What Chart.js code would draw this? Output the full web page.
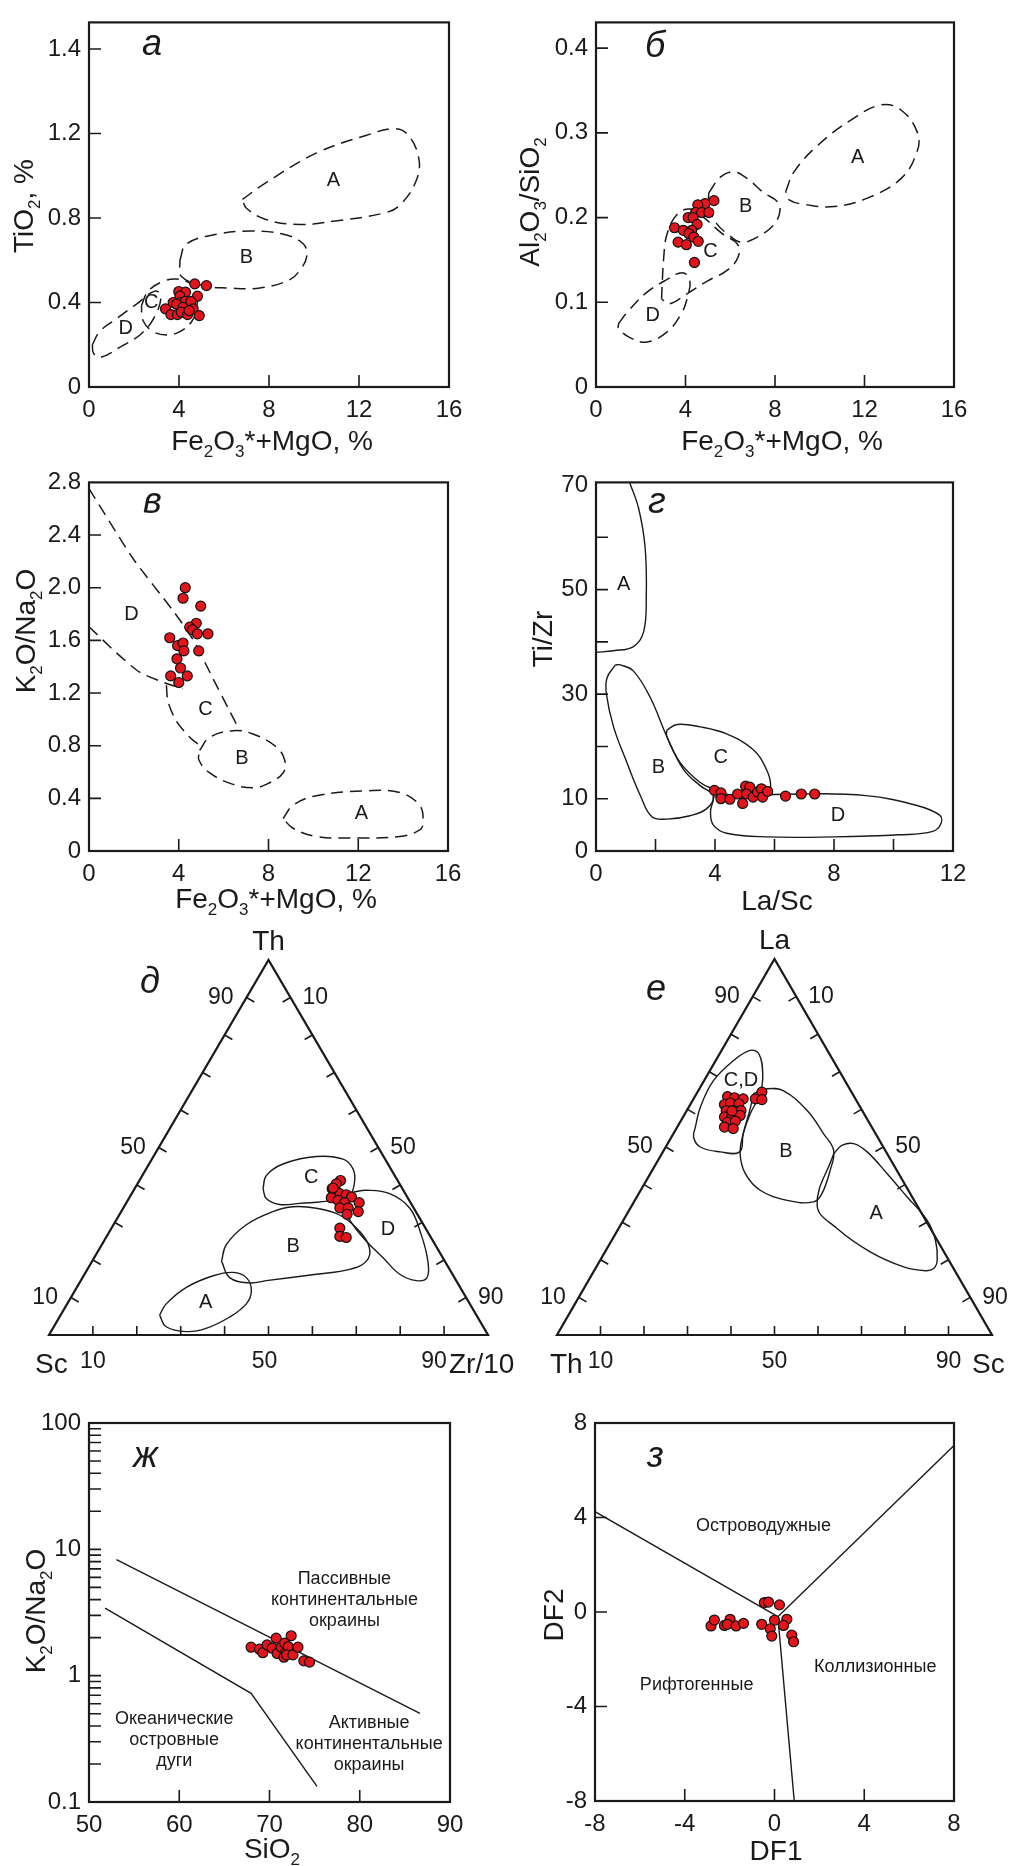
<!DOCTYPE html>
<html>
<head>
<meta charset="utf-8">
<script src="https://cdn.jsdelivr.net/npm/chart.js@4.4.1/dist/chart.umd.min.js"></script>
<style>
html, body { margin: 0; padding: 0; background: #fff; }
#page { position: relative; width: 1011px; height: 1866px; overflow: hidden; background: #fff; }
canvas { position: absolute; }
</style>
</head>
<body>
<div id="page">
<canvas id="cA" width="490" height="460" style="left:0px;top:0px"></canvas>
<canvas id="cB" width="506" height="460" style="left:505px;top:0px"></canvas>
<canvas id="cV" width="490" height="460" style="left:0px;top:460px"></canvas>
<canvas id="cG" width="506" height="460" style="left:505px;top:460px"></canvas>
<canvas id="cD" width="530" height="500" style="left:0px;top:880px"></canvas>
<canvas id="cE" width="506" height="500" style="left:505px;top:880px"></canvas>
<canvas id="cZh" width="490" height="486" style="left:0px;top:1380px"></canvas>
<canvas id="cZ" width="506" height="486" style="left:505px;top:1380px"></canvas>
</div>
<script>
var FONT = '"Liberation Sans", Arial, sans-serif';
var INK = '#1a1a1a';
var RED = '#e3141b';

// ---------- а : TiO2 vs Fe2O3*+MgO ----------
var aX = [4.70, 5.22, 3.99, 4.29, 4.04, 4.82, 3.74, 4.04, 4.27, 4.53, 3.40, 3.89, 4.18, 4.63, 3.64, 3.93, 4.10, 4.38, 4.90, 4.45];
var aY = [0.488, 0.480, 0.452, 0.449, 0.430, 0.430, 0.400, 0.400, 0.405, 0.405, 0.370, 0.392, 0.377, 0.370, 0.343, 0.343, 0.354, 0.343, 0.338, 0.362];
var aXTicks = [0, 4, 8, 12, 16];
var aXLabels = ['0', '4', '8', '12', '16'];
var aYTicks = [0, 0.4, 0.8, 1.2, 1.6];
var aYLabels = ['0', '0.4', '0.8', '1.2', '1.4'];
var aRegA = [[6.82,0.888],[7.89,0.969],[10.12,1.108],[12.34,1.192],[13.53,1.223],[14.12,1.20],[14.64,1.092],[14.57,0.985],[13.83,0.862],[13.09,0.823],[10.86,0.785],[9.38,0.769],[7.89,0.792],[7.0,0.846]];
var aRegB = [[4.04,0.60],[4.33,0.677],[5.67,0.723],[7.15,0.738],[8.64,0.723],[9.53,0.677],[9.67,0.615],[9.38,0.554],[8.93,0.508],[7.6,0.469],[6.11,0.469],[5.22,0.477],[4.11,0.523]];
var aRegC = [[2.33,0.385],[2.63,0.454],[3.29,0.50],[3.89,0.511],[4.48,0.492],[4.78,0.446],[4.78,0.369],[4.55,0.308],[4.04,0.262],[3.44,0.246],[2.85,0.262],[2.40,0.315]];
var aRegD = [[0.15,0.20],[0.47,0.262],[1.22,0.323],[2.11,0.392],[2.92,0.454],[3.2,0.43],[2.9,0.33],[2.3,0.25],[1.4,0.19],[0.5,0.14],[0.2,0.16]];
var aRegNames = ['A', 'B', 'C', 'D'];
var aRegLabX = [10.86, 7.0, 2.77, 1.63];
var aRegLabY = [0.977, 0.615, 0.40, 0.277];

// ---------- б : Al2O3/SiO2 vs Fe2O3*+MgO ----------
var bX = [5.27, 4.87, 4.55, 4.45, 4.72, 5.04, 4.12, 4.34, 4.52, 3.51, 3.90, 4.28, 4.15, 4.37, 3.67, 4.04, 4.57, 4.40];
var bY = [0.220, 0.2165, 0.215, 0.206, 0.206, 0.206, 0.200, 0.200, 0.192, 0.188, 0.185, 0.185, 0.181, 0.177, 0.171, 0.168, 0.172, 0.147];
var bYTicks = [0, 0.1, 0.2, 0.3, 0.4];
var bYLabels = ['0', '0.1', '0.2', '0.3', '0.4'];
var bRegA = [[8.48,0.231],[8.85,0.254],[9.9,0.285],[11.39,0.315],[12.73,0.333],[13.63,0.327],[14.37,0.30],[14.34,0.277],[13.63,0.246],[12.13,0.223],[10.64,0.213],[9.45,0.215],[8.63,0.221]];
var bRegB = [[5.04,0.229],[5.57,0.248],[6.16,0.254],[6.76,0.246],[7.51,0.229],[8.10,0.219],[8.22,0.208],[7.96,0.192],[7.21,0.177],[6.46,0.171],[5.87,0.181],[5.42,0.192],[5.04,0.212]];
var bRegC = [[2.93,0.104],[3.03,0.154],[3.18,0.181],[3.63,0.204],[4.22,0.21],[4.82,0.20],[5.64,0.181],[6.31,0.169],[6.36,0.154],[5.87,0.138],[4.97,0.125],[4.07,0.11],[3.25,0.098]];
var bRegD = [[1.01,0.075],[1.39,0.088],[2.28,0.112],[3.18,0.127],[3.85,0.135],[4.19,0.127],[4.07,0.104],[3.78,0.085],[3.18,0.065],[2.28,0.053],[1.54,0.058],[1.01,0.069]];
var bRegLabX = [11.69, 6.69, 5.12, 2.54];
var bRegLabY = [0.271, 0.213, 0.160, 0.085];

// ---------- в : K2O/Na2O vs Fe2O3*+MgO ----------
var vX = [4.29, 4.19, 4.98, 4.78, 4.49, 4.61, 4.83, 5.30, 3.60, 3.95, 4.19, 4.23, 4.89, 3.92, 4.08, 3.64, 4.38, 4.00];
var vY = [2.00, 1.92, 1.86, 1.73, 1.70, 1.68, 1.65, 1.65, 1.62, 1.56, 1.58, 1.52, 1.52, 1.46, 1.39, 1.33, 1.33, 1.28];
var vYTicks = [0, 0.4, 0.8, 1.2, 1.6, 2.0, 2.4, 2.8];
var vYLabels = ['0', '0.4', '0.8', '1.2', '1.6', '2.0', '2.4', '2.8'];
var vLineUpper = [[0,2.753],[1.96,2.222],[3.74,1.827],[4.64,1.605],[5.53,1.309],[6.27,1.062],[6.72,0.914]];
var vLineLower = [[0,1.704],[1.22,1.506],[2.26,1.358],[3.45,1.272],[4.19,1.235]];
var vLineC = [[3.45,1.259],[3.52,1.136],[3.89,0.988],[4.49,0.864],[4.93,0.802]];
var vRegB = [[4.93,0.765],[5.38,0.864],[6.42,0.914],[7.31,0.889],[8.35,0.79],[8.72,0.691],[8.65,0.593],[7.9,0.506],[7.31,0.481],[6.42,0.506],[5.38,0.593],[4.9,0.691]];
var vRegA = [[8.65,0.247],[9.09,0.346],[10.13,0.42],[12.36,0.457],[13.85,0.444],[14.74,0.346],[14.89,0.222],[14.74,0.16],[13.85,0.111],[11.62,0.099],[10.13,0.111],[9.09,0.173]];
var vRegNames = ['D', 'C', 'B', 'A'];
var vRegLabX = [1.89, 5.19, 6.82, 12.14];
var vRegLabY = [1.80, 1.074, 0.704, 0.284];

// ---------- г : Ti/Zr vs La/Sc ----------
var gX = [3.98, 4.20, 4.20, 4.50, 4.76, 4.93, 5.03, 5.17, 5.06, 5.28, 5.43, 5.56, 5.60, 5.77, 6.37, 6.90, 7.35];
var gY = [11.6, 11.1, 10.0, 9.9, 10.9, 9.1, 12.4, 12.2, 10.9, 10.3, 11.25, 11.9, 10.3, 11.4, 10.5, 10.9, 10.9];
var gXTicks = [0, 4, 8, 12];
var gXLabels = ['0', '4', '8', '12'];
var gYTicks = [0, 10, 30, 50, 70];
var gYLabels = ['0', '10', '30', '50', '70'];
var gRegA = [[0,38],[0.59,38.3],[1.26,39.1],[1.6,41.9],[1.69,48.75],[1.65,58.1],[1.43,65.6],[1.13,70.5]];
var gRegB = [[0.65,35.6],[0.37,33.1],[0.35,30],[0.59,23.75],[1.04,16.9],[1.49,10.6],[1.88,6.56],[2.38,6.1],[3.16,6.75],[3.72,8.1],[3.94,10.6],[3.5,12.5],[2.94,15.6],[2.38,21.9],[1.82,29.4],[1.26,34.4],[0.82,35.6]];
var gRegC = [[2.38,23.1],[2.72,24.2],[3.5,23.75],[4.39,22.4],[5.28,19.4],[5.73,15.6],[5.87,12.5],[5.73,10.6],[4.61,10.6],[3.94,11.9],[3.5,13.1],[2.83,16.9],[2.38,21.9]];
var gRegD = [[3.94,10.3],[6.85,10.9],[9.08,10.6],[10.76,8.75],[11.54,6.9],[11.6,5.3],[11.32,3.75],[10.2,3.1],[7.97,2.7],[5.73,2.7],[4.39,3.4],[3.94,5.0],[3.85,7.5],[3.94,9.7]];
var gRegLabX = [0.93, 2.1, 4.19, 8.13];
var gRegLabY = [50.9, 15.9, 17.8, 6.75];

// ---------- д : Th – Sc – Zr/10 (top = Th, right = Zr/10, %) ----------
var dTh = [41.2, 40.3, 39.0, 37.7, 37.4, 36.8, 36.6, 35.9, 35.3, 35.3, 33.9, 33.9, 32.9, 32.2, 28.5, 26.3, 26.0, 39.2];
var dZr = [45.8, 45.3, 45.0, 47.4, 49.0, 50.5, 46.0, 47.9, 49.7, 53.0, 49.3, 51.2, 54.0, 51.8, 52.0, 53.1, 54.7, 45.1];
var dRegC = [[39.0,29.25],[42.5,28.25],[45.6,30.5],[47.6,37.1],[46.9,43.55],[44.3,47.1],[40.8,49.2],[37.3,49.85],[35.9,46.75],[35.1,39.55],[34.8,35.1],[36.4,31.3]];
var dRegB = [[19.7,29.45],[24.1,28.35],[29.4,30.25],[32.9,34.55],[34.2,38.5],[33.8,44.0],[32.0,50.2],[27.6,57.0],[23.2,61.4],[19.7,62.45],[17.5,59.75],[16.2,52.8],[14.5,42.25],[13.9,38.75],[15.3,33.5]];
var dRegA = [[5.3,22.55],[8.3,22.55],[12.7,24.95],[15.8,29.5],[16.7,33.55],[15.3,37.3],[11.8,40.2],[8.3,40.8],[4.8,38.75],[1.75,34.9],[0.9,30.85],[2.2,25.6]];
var dRegD = [[38.1,50.2],[38.6,53.0],[37.7,58.75],[33.8,65.3],[26.7,71.45],[19.7,76.45],[15.3,78.45],[14.5,76.45],[16.2,71.8],[20.6,65.8],[25.0,59.8],[29.4,54.55],[32.9,51.25],[36.4,49.9]];
var dRegNames = ['C', 'B', 'A', 'D'];
var dRegLabTop = [42.1, 23.7, 8.8, 28.1];
var dRegLabRight = [38.7, 43.75, 31.3, 63.15];

// ---------- е : La – Th – Sc (top = La, right = Sc, %) ----------
var eLa = [63.4, 63.1, 62.8, 61.3, 61.7, 61.5, 59.7, 59.7, 59.7, 58.0, 58.4, 58.4, 56.6, 56.9, 55.3, 54.9, 64.6, 62.8, 62.6, 59.6];
var eSc = [7.5, 9.25, 11.4, 7.85, 9.0, 11.05, 9.05, 10.75, 12.45, 9.5, 11.0, 12.9, 10.9, 12.55, 10.85, 13.05, 14.8, 14.2, 15.8, 10.4];
var eRegCD = [[55.3,4.15],[60.6,2.65],[67.7,2.15],[73.0,4.1],[75.7,6.55],[74.8,9.0],[69.5,12.55],[64.2,14.6],[58.8,15.0],[53.5,16.05],[48.7,17.65],[48.7,13.15],[50.0,7.95],[52.6,5.1]];
var eRegB = [[64.2,13.1],[65.5,15.55],[64.9,19.65],[59.7,27.65],[53.5,34.55],[49.1,39.05],[43.8,40.9],[37.6,42.1],[35.4,41.3],[35.8,35.0],[38.5,27.45],[42.9,21.85],[48.2,18.0],[53.5,16.05],[59.7,14.45]];
var eRegA = [[48.2,39.5],[50.4,40.3],[50.9,42.75],[48.7,46.95],[42.9,54.45],[36.7,62.15],[30.5,69.85],[25.2,74.4],[19.9,77.45],[17.7,77.75],[17.1,76.15],[18.1,70.65],[22.1,60.95],[28.3,50.25],[34.5,42.55]];
var eRegNames = ['C,D', 'B', 'A'];
var eRegLabTop = [67.7, 48.9, 32.3];
var eRegLabRight = [8.45, 28.15, 57.25];

var ternMarks = [10, 20, 30, 40, 50, 60, 70, 80, 90];
var ternLabels = [10, 50, 90];

// ---------- ж : K2O/Na2O vs SiO2 ----------
var zhX = [67.96, 68.89, 69.26, 69.74, 70.30, 70.74, 70.85, 71.30, 71.67, 71.78, 71.60, 72.07, 72.40, 71.90, 72.60, 73.15, 73.80, 74.44];
var zhY = [1.68, 1.62, 1.52, 1.75, 1.65, 1.98, 1.50, 1.68, 1.81, 1.52, 1.40, 1.70, 2.07, 1.46, 1.46, 1.68, 1.31, 1.28];
var zhXTicks = [50, 60, 70, 80, 90];
var zhXLabels = ['50', '60', '70', '80', '90'];
var zhYTicks = [0.1, 1, 10, 100];
var zhYLabels = ['0.1', '1', '10', '100'];
var zhYMarks = [0.2,0.3,0.4,0.5,0.6,0.7,0.8,0.9,1,2,3,4,5,6,7,8,9,10,20,30,40,50,60,70,80,90];
var zhUpper = [[53.04,8.28],[86.67,0.502]];
var zhLower = [[51.78,3.42],[67.96,0.724],[75.26,0.133]];

// ---------- з : DF2 vs DF1 ----------
var zX = [-2.83, -2.68, -2.23, -1.98, -2.10, -1.71, -1.38, -0.57, -0.45, -0.27, 0.22, 0.00, -0.19, -0.12, 0.55, 0.40, 0.77, 0.85];
var zY = [-0.59, -0.34, -0.57, -0.31, -0.52, -0.59, -0.48, -0.52, 0.40, 0.42, 0.30, -0.35, -0.71, -1.02, -0.31, -0.57, -0.98, -1.26];
var zTicks = [-8, -4, 0, 4, 8];
var zLabels = ['-8', '-4', '0', '4', '8'];
var zLeft = [[-8,4.25],[0.15,-0.2]];
var zRight = [[0.15,-0.2],[8,7.05]];
var zBottom = [[0.15,-0.2],[0.88,-8]];

function closed(p) { return p.concat([p[0]]); }
function toXY(p) { return p.map(function (q) { return { x: q[0], y: q[1] }; }); }

function lineSet(pts, dash, tension) {
    return {
        data: toXY(pts), showLine: true, pointRadius: 0, pointHoverRadius: 0,
        borderColor: INK, borderWidth: dash ? 1.5 : 1.4, borderDash: dash ? [12, 7] : [],
        tension: tension, fill: false, order: 2
    };
}
function pointSet(pts) {
    return {
        data: pts, showLine: false, pointRadius: 5, pointHoverRadius: 5,
        pointBackgroundColor: RED, pointBorderColor: '#111', pointBorderWidth: 1.2, order: 0
    };
}
function zipXY(xs, ys) { return xs.map(function (x, i) { return { x: x, y: ys[i] }; }); }

// text with "_x" subscripts
function drawRich(ctx, s, size, x, y, rot) {
    var parts = [];
    for (var i = 0; i < s.length; i++) {
        if (s[i] === '_') { parts.push({ t: s[i + 1], sub: true }); i++; }
        else if (parts.length && !parts[parts.length - 1].sub) parts[parts.length - 1].t += s[i];
        else parts.push({ t: s[i], sub: false });
    }
    var big = size + 'px ' + FONT, small = Math.round(size * 0.62) + 'px ' + FONT;
    var w = 0;
    parts.forEach(function (p) { ctx.font = p.sub ? small : big; p.w = ctx.measureText(p.t).width; w += p.w; });
    ctx.save();
    ctx.translate(x, y);
    if (rot) ctx.rotate(rot);
    ctx.textAlign = 'left'; ctx.textBaseline = 'alphabetic';
    var cx = -w / 2;
    parts.forEach(function (p) {
        ctx.font = p.sub ? small : big;
        ctx.fillText(p.t, cx, p.sub ? size * 0.24 : 0);
        cx += p.w;
    });
    ctx.restore();
}

function rectDeco(cfg) {
    return {
        id: 'deco',
        afterDraw: function (chart) {
            var ctx = chart.ctx, a = chart.chartArea, sx = chart.scales.x, sy = chart.scales.y;
            ctx.save();
            ctx.strokeStyle = INK; ctx.fillStyle = INK;
            ctx.lineWidth = 1.6;
            ctx.beginPath();
            cfg.x.marks.forEach(function (v) { var p = sx.getPixelForValue(v); ctx.moveTo(p, a.bottom); ctx.lineTo(p, a.bottom - 12); });
            cfg.y.marks.forEach(function (v) { var p = sy.getPixelForValue(v); ctx.moveTo(a.left, p); ctx.lineTo(a.left + 12, p); });
            ctx.stroke();
            ctx.lineWidth = 2.2;
            ctx.strokeRect(a.left, a.top, a.right - a.left, a.bottom - a.top);

            ctx.font = '20px ' + FONT; ctx.textAlign = 'center'; ctx.textBaseline = 'middle';
            (cfg.regNames || []).forEach(function (n, i) {
                ctx.fillText(n, sx.getPixelForValue(cfg.regX[i]), sy.getPixelForValue(cfg.regY[i]));
            });
            ctx.font = '18px ' + FONT;
            (cfg.notes || []).forEach(function (nt) {
                var cx = sx.getPixelForValue(nt.x), cy = sy.getPixelForValue(nt.y);
                nt.lines.forEach(function (s, k) { ctx.fillText(s, cx, cy + (k - (nt.lines.length - 1) / 2) * 21); });
            });

            ctx.font = 'italic 36px ' + FONT; ctx.textAlign = 'left'; ctx.textBaseline = 'alphabetic';
            ctx.fillText(cfg.letter, cfg.letterAt[0], cfg.letterAt[1]);
            drawRich(ctx, cfg.xTitle, 28, cfg.xTitleAt[0], cfg.xTitleAt[1], 0);
            drawRich(ctx, cfg.yTitle, 28, cfg.yTitleAt[0], cfg.yTitleAt[1], -Math.PI / 2);
            ctx.restore();
        }
    };
}

function makeRect(cfg) {
    var cv = document.getElementById(cfg.id);
    var W = cv.width, H = cv.height, ar = cfg.area;
    function axis(ax, pos) {
        return {
            type: ax.type || 'linear', position: pos, min: ax.min, max: ax.max,
            afterBuildTicks: function (s) { s.ticks = ax.ticks.map(function (v) { return { value: v }; }); },
            afterFit: pos === 'left'
                ? function (s) { s.width = ar.left; }
                : function (s) { s.height = H - ar.bottom; },
            grid: { display: false, drawTicks: false },
            border: { display: false },
            ticks: {
                color: INK, font: { family: FONT, size: 24 }, padding: pos === 'left' ? 8 : 9,
                maxRotation: 0, autoSkip: false,
                callback: function (v) { var i = ax.ticks.indexOf(v); return i < 0 ? '' : ax.labels[i]; }
            }
        };
    }
    return new Chart(cv, {
        type: 'scatter',
        data: { datasets: cfg.datasets },
        options: {
            responsive: false, animation: false, devicePixelRatio: 1, events: [],
            layout: { padding: { left: 0, top: ar.top, right: W - ar.right, bottom: 0 } },
            scales: { x: axis(cfg.x, 'bottom'), y: axis(cfg.y, 'left') },
            plugins: { legend: { display: false }, tooltip: { enabled: false } }
        },
        plugins: [rectDeco(cfg)]
    });
}

function ternDeco(cfg) {
    return {
        id: 'tern',
        afterDraw: function (chart) {
            var ctx = chart.ctx, sx = chart.scales.x, sy = chart.scales.y;
            function P(t, r) { return [sx.getPixelForValue(r + t / 2), sy.getPixelForValue(t)]; }
            var BL = P(0, 0), BR = P(0, 100), TP = P(100, 0);
            var gx = (BL[0] + BR[0] + TP[0]) / 3, gy = (BL[1] + BR[1] + TP[1]) / 3;
            function inward(p, a, b) {
                var dx = b[0] - a[0], dy = b[1] - a[1], L = Math.hypot(dx, dy);
                var nx = -dy / L, ny = dx / L;
                if ((gx - p[0]) * nx + (gy - p[1]) * ny < 0) { nx = -nx; ny = -ny; }
                return [nx, ny];
            }
            ctx.save();
            ctx.strokeStyle = INK; ctx.fillStyle = INK;
            ctx.lineWidth = 2.2; ctx.lineJoin = 'miter';
            ctx.beginPath();
            ctx.moveTo(BL[0], BL[1]); ctx.lineTo(BR[0], BR[1]); ctx.lineTo(TP[0], TP[1]); ctx.closePath();
            ctx.stroke();
            ctx.lineWidth = 1.6;
            ctx.beginPath();
            ternMarks.forEach(function (v) {
                [[P(0, v), BL, BR], [P(v, 0), BL, TP], [P(100 - v, v), TP, BR]].forEach(function (e) {
                    var n = inward(e[0], e[1], e[2]);
                    ctx.moveTo(e[0][0], e[0][1]);
                    ctx.lineTo(e[0][0] + n[0] * 9, e[0][1] + n[1] * 9);
                });
            });
            ctx.stroke();

            ctx.font = '23px ' + FONT;
            ternLabels.forEach(function (v, k) {
                var b = P(0, v);
                ctx.textAlign = 'center'; ctx.textBaseline = 'alphabetic';
                ctx.fillText(String(v), b[0] + cfg.bottomDx[k], BL[1] + 33);
                var l = P(v, 0);
                ctx.textAlign = 'right'; ctx.textBaseline = 'middle';
                ctx.fillText(String(v), l[0] - 13, l[1]);
                var r = P(100 - v, v);
                ctx.textAlign = 'left';
                ctx.fillText(String(v), r[0] + 12, r[1]);
            });

            ctx.font = '28px ' + FONT; ctx.textBaseline = 'alphabetic';
            ctx.textAlign = 'center';
            ctx.fillText(cfg.vTop, TP[0], TP[1] - 10);
            ctx.textAlign = 'left';
            ctx.fillText(cfg.vLeft, BL[0] + cfg.vLeftDx, BL[1] + 38);
            ctx.fillText(cfg.vRight, BR[0] + cfg.vRightDx, BL[1] + 38);

            ctx.font = '20px ' + FONT; ctx.textAlign = 'center'; ctx.textBaseline = 'middle';
            cfg.regNames.forEach(function (n, i) {
                var p = P(cfg.regTop[i], cfg.regRight[i]);
                ctx.fillText(n, p[0], p[1]);
            });

            ctx.font = 'italic 36px ' + FONT; ctx.textAlign = 'left'; ctx.textBaseline = 'alphabetic';
            ctx.fillText(cfg.letter, cfg.letterAt[0], cfg.letterAt[1]);
            ctx.restore();
        }
    };
}

function makeTern(cfg) {
    var cv = document.getElementById(cfg.id);
    function proj(p) { return { x: p[1] + p[0] / 2, y: p[0] }; }
    var sets = [pointSet(cfg.top.map(function (t, i) { return proj([t, cfg.right[i]]); }))];
    cfg.regions.forEach(function (reg) {
        sets.push({
            data: closed(reg).map(proj), showLine: true, pointRadius: 0, pointHoverRadius: 0,
            borderColor: INK, borderWidth: 1.4, tension: 0.4, fill: false, order: 2
        });
    });
    return new Chart(cv, {
        type: 'scatter',
        data: { datasets: sets },
        options: {
            responsive: false, animation: false, devicePixelRatio: 1, events: [],
            layout: { padding: cfg.pad },
            scales: { x: { display: false, min: 0, max: 100 }, y: { display: false, min: 0, max: 100 } },
            plugins: { legend: { display: false }, tooltip: { enabled: false } }
        },
        plugins: [ternDeco(cfg)]
    });
}

// а
makeRect({
    id: 'cA', area: { left: 89, top: 13, right: 449, bottom: 387 },
    x: { min: 0, max: 16, ticks: aXTicks, labels: aXLabels, marks: [4, 8, 12] },
    y: { min: 0, max: 1.726, ticks: aYTicks, labels: aYLabels, marks: [0.4, 0.8, 1.2, 1.6] },
    datasets: [pointSet(zipXY(aX, aY)),
        lineSet(closed(aRegA), true, 0.4), lineSet(closed(aRegB), true, 0.4),
        lineSet(closed(aRegC), true, 0.4), lineSet(closed(aRegD), true, 0.4)],
    regNames: aRegNames, regX: aRegLabX, regY: aRegLabY,
    letter: 'а', letterAt: [142, 55],
    xTitle: 'Fe_2O_3*+MgO, %', xTitleAt: [272, 450],
    yTitle: 'TiO_2, %', yTitleAt: [33, 206]
});

// б
makeRect({
    id: 'cB', area: { left: 91, top: 14, right: 449, bottom: 387 },
    x: { min: 0, max: 16, ticks: aXTicks, labels: aXLabels, marks: [4, 8, 12] },
    y: { min: 0, max: 0.4304, ticks: bYTicks, labels: bYLabels, marks: [0.1, 0.2, 0.3, 0.4] },
    datasets: [pointSet(zipXY(bX, bY)),
        lineSet(closed(bRegA), true, 0.4), lineSet(closed(bRegB), true, 0.4),
        lineSet(closed(bRegC), true, 0.4), lineSet(closed(bRegD), true, 0.4)],
    regNames: aRegNames, regX: bRegLabX, regY: bRegLabY,
    letter: 'б', letterAt: [140, 57],
    xTitle: 'Fe_2O_3*+MgO, %', xTitleAt: [277, 450],
    yTitle: 'Al_2O_3/SiO_2', yTitleAt: [34, 202]
});

// в
makeRect({
    id: 'cV', area: { left: 89, top: 13, right: 448, bottom: 391 },
    x: { min: 0, max: 16, ticks: aXTicks, labels: aXLabels, marks: [4, 8, 12] },
    y: { min: 0, max: 2.8, ticks: vYTicks, labels: vYLabels, marks: [0.4, 0.8, 1.2, 1.6, 2.0, 2.4] },
    datasets: [pointSet(zipXY(vX, vY)),
        lineSet(vLineUpper, true, 0.2), lineSet(vLineLower, true, 0.2), lineSet(vLineC, true, 0.3),
        lineSet(closed(vRegB), true, 0.4), lineSet(closed(vRegA), true, 0.4)],
    regNames: vRegNames, regX: vRegLabX, regY: vRegLabY,
    letter: 'в', letterAt: [143, 53],
    xTitle: 'Fe_2O_3*+MgO, %', xTitleAt: [276, 448],
    yTitle: 'K_2O/Na_2O', yTitleAt: [35, 171]
});

// г
makeRect({
    id: 'cG', area: { left: 91, top: 14, right: 448, bottom: 391 },
    x: { min: 0, max: 12, ticks: gXTicks, labels: gXLabels, marks: [2, 4, 6, 8, 10] },
    y: { min: 0, max: 70.5, ticks: gYTicks, labels: gYLabels, marks: [10, 20, 30, 40, 50, 60] },
    datasets: [pointSet(zipXY(gX, gY)),
        lineSet(gRegA, false, 0.4), lineSet(closed(gRegB), false, 0.4),
        lineSet(closed(gRegC), false, 0.4), lineSet(closed(gRegD), false, 0.4)],
    regNames: aRegNames, regX: gRegLabX, regY: gRegLabY,
    letter: 'г', letterAt: [143, 53],
    xTitle: 'La/Sc', xTitleAt: [272, 450],
    yTitle: 'Ti/Zr', yTitleAt: [47, 179]
});

// д
makeTern({
    id: 'cD', pad: { left: 49, top: 80, right: 42, bottom: 45 },
    top: dTh, right: dZr, regions: [dRegC, dRegB, dRegA, dRegD],
    regNames: dRegNames, regTop: dRegLabTop, regRight: dRegLabRight,
    vTop: 'Th', vLeft: 'Sc', vRight: 'Zr/10', vLeftDx: -14, vRightDx: -39,
    bottomDx: [0, -4, -10],
    letter: 'д', letterAt: [140, 113]
});

// е
makeTern({
    id: 'cE', pad: { left: 52, top: 79, right: 19, bottom: 45 },
    top: eLa, right: eSc, regions: [eRegCD, eRegB, eRegA],
    regNames: eRegNames, regTop: eRegLabTop, regRight: eRegLabRight,
    vTop: 'La', vLeft: 'Th', vRight: 'Sc', vLeftDx: -7, vRightDx: -20,
    bottomDx: [0, 0, 0],
    letter: 'е', letterAt: [141, 120]
});

// ж
makeRect({
    id: 'cZh', area: { left: 89, top: 43, right: 450, bottom: 422 },
    x: { min: 50, max: 90, ticks: zhXTicks, labels: zhXLabels, marks: [60, 70, 80] },
    y: { type: 'logarithmic', min: 0.1, max: 100, ticks: zhYTicks, labels: zhYLabels, marks: zhYMarks },
    datasets: [pointSet(zipXY(zhX, zhY)), lineSet(zhUpper, false, 0), lineSet(zhLower, false, 0)],
    notes: [
        { lines: ['Пассивные', 'континентальные', 'окраины'], x: 78.3, y: 3.99 },
        { lines: ['Океанические', 'островные', 'дуги'], x: 59.44, y: 0.308 },
        { lines: ['Активные', 'континентальные', 'окраины'], x: 81.04, y: 0.29 }
    ],
    letter: 'ж', letterAt: [133, 87],
    xTitle: 'SiO_2', xTitleAt: [272, 478],
    yTitle: 'K_2O/Na_2O', yTitleAt: [45, 231]
});

// з
makeRect({
    id: 'cZ', area: { left: 90, top: 43, right: 449, bottom: 421 },
    x: { min: -8, max: 8, ticks: zTicks, labels: zLabels, marks: [-4, 0, 4] },
    y: { min: -8, max: 8, ticks: zTicks, labels: zLabels, marks: [-4, 0, 4] },
    datasets: [pointSet(zipXY(zX, zY)), lineSet(zLeft, false, 0), lineSet(zRight, false, 0), lineSet(zBottom, false, 0)],
    notes: [
        { lines: ['Островодужные'], x: -0.49, y: 3.65 },
        { lines: ['Коллизионные'], x: 4.49, y: -2.33 },
        { lines: ['Рифтогенные'], x: -3.47, y: -3.1 }
    ],
    letter: 'з', letterAt: [142, 87],
    xTitle: 'DF1', xTitleAt: [271, 480],
    yTitle: 'DF2', yTitleAt: [58, 235]
});
</script>
</body>
</html>
